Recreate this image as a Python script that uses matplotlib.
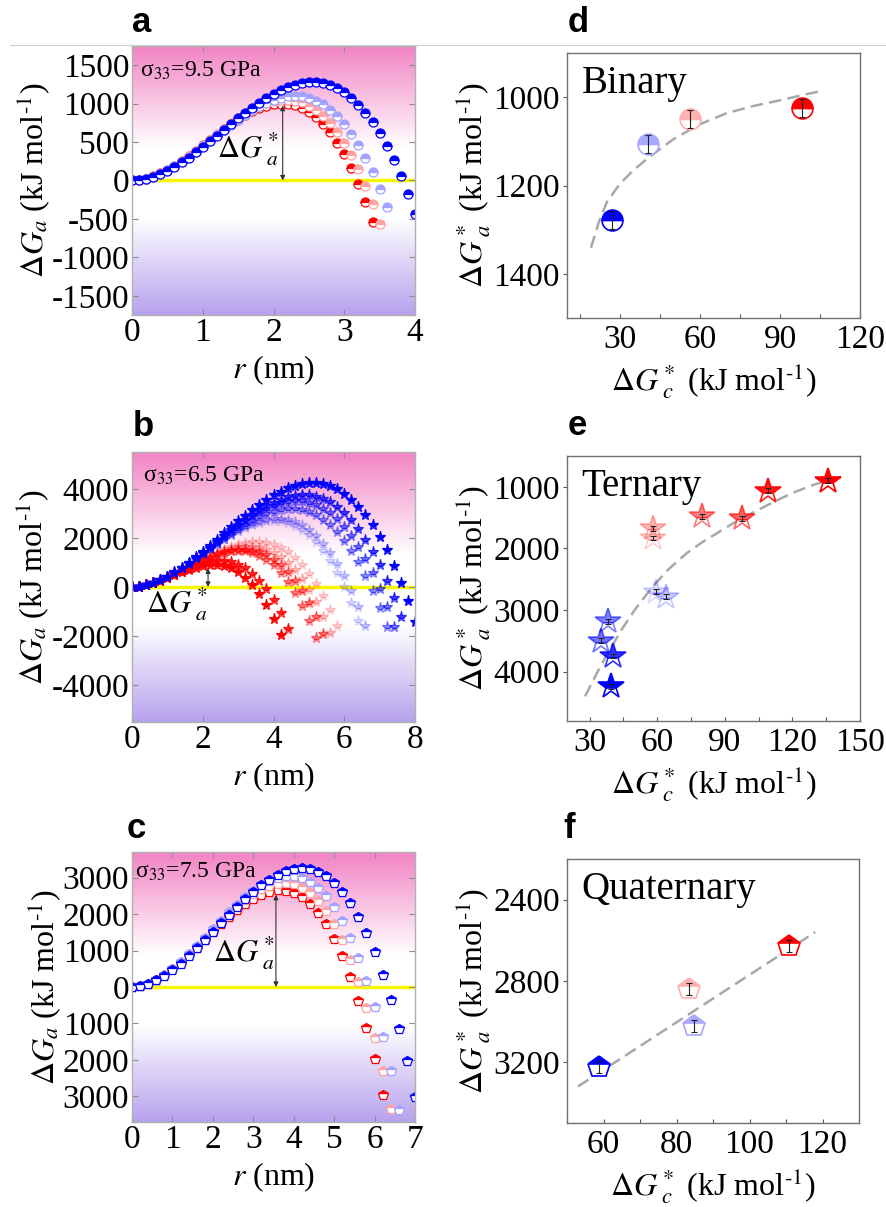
import numpy as np
import matplotlib
matplotlib.use('Agg')
import matplotlib.pyplot as plt
from matplotlib.colors import LinearSegmentedColormap, to_rgba
from matplotlib.lines import Line2D
from matplotlib.ticker import AutoMinorLocator, FuncFormatter

plt.rcParams['font.family'] = ['Liberation Serif', 'DejaVu Serif']
plt.rcParams['mathtext.fontset'] = 'stix'
plt.rcParams['axes.unicode_minus'] = False

# ---- radius grids (nm) ----
R_A = [0.0, 0.1, 0.2, 0.3, 0.4, 0.5, 0.6, 0.7, 0.8, 0.9, 1.0, 1.1, 1.2, 1.3,
       1.4, 1.5, 1.6, 1.7, 1.8, 1.9, 2.0, 2.1, 2.2, 2.3, 2.4, 2.5, 2.6, 2.7,
       2.8, 2.9, 3.0, 3.1, 3.2, 3.3, 3.4, 3.5, 3.6, 3.7, 3.8, 3.9, 4.0]
R_BC = [0.0, 0.2, 0.4, 0.6, 0.8, 1.0, 1.2, 1.4, 1.6, 1.8, 2.0, 2.2, 2.4, 2.6,
        2.8, 3.0, 3.2, 3.4, 3.6, 3.8, 4.0, 4.2, 4.4, 4.6, 4.8, 5.0, 5.2, 5.4,
        5.6, 5.8, 6.0, 6.2, 6.4, 6.6, 6.8, 7.0, 7.2, 7.4, 7.6, 7.8, 8.0]

# ---- panel a: binary, sigma33 = 9.5 GPa ----
GA_RED = [0, 6, 25, 54, 93, 141, 195, 255, 320, 388, 458, 528, 598, 667, 732,
          793, 849, 898, 939, 970, 991, 1000, 996, 977, 943, 892, 823, 735,
          625, 494, 340, 162, -43, -274, -534]
GA_PINK = [0, 6, 25, 54, 93, 140, 195, 255, 320, 389, 460, 532, 604, 675, 743,
           807, 867, 920, 965, 1002, 1030, 1046, 1050, 1040, 1016, 975, 918,
           842, 747, 630, 492, 331, 145, -67, -305, -571]
GA_LBLUE = [0, 6, 24, 51, 88, 133, 186, 244, 307, 373, 443, 514, 586, 657, 727,
            793, 856, 915, 967, 1012, 1049, 1077, 1094, 1100, 1094, 1074, 1039,
            989, 922, 837, 733, 609, 463, 296, 105, -110, -351]
GA_BLUE = [0, 6, 22, 49, 85, 128, 179, 236, 299, 366, 436, 509, 584, 659, 734,
           808, 879, 948, 1013, 1073, 1127, 1174, 1214, 1245, 1267, 1278, 1278,
           1266, 1240, 1200, 1146, 1075, 987, 882, 758, 614, 449, 263, 55,
           -177, -434]

# ---- panel b: ternary, sigma33 = 6.5 GPa ----
GB_R1 = [0, 19, 72, 152, 251, 362, 479, 594, 701, 791, 858, 895, 895, 850,
         754, 599, 379, 86, -288, -748, -1302, -1958]
GB_R2 = [0, 19, 72, 152, 254, 370, 493, 619, 740, 849, 941, 1008, 1045, 1045,
         1001, 907, 757, 543, 262, -97, -538, -1067, -1692]
GB_P1 = [0, 19, 72, 154, 260, 384, 521, 666, 814, 959, 1096, 1220, 1326, 1408,
         1461, 1480, 1459, 1394, 1279, 1108, 877, 580, 213, -233, -758, -1370,
         -2074]
GB_P2 = [0, 17, 67, 143, 243, 360, 490, 630, 773, 916, 1053, 1180, 1294, 1388,
         1458, 1499, 1508, 1480, 1409, 1289, 1120, 894, 608, 254, -168, -665,
         -1241, -1904]
GB_PP1 = [0, 17, 67, 144, 244, 363, 496, 639, 787, 937, 1083, 1222, 1348, 1458,
          1548, 1611, 1645, 1645, 1606, 1523, 1395, 1214, 976, 679, 316, -118,
          -622, -1207, -1875]
GB_PP2 = [0, 17, 66, 143, 243, 363, 498, 644, 798, 955, 1110, 1260, 1402, 1530,
          1640, 1729, 1793, 1826, 1826, 1789, 1709, 1582, 1407, 1176, 887, 535,
          119, -370, -935, -1574]
GB_LB1 = [0, 20, 76, 164, 281, 422, 583, 761, 950, 1148, 1350, 1552, 1750, 1939,
          2117, 2278, 2419, 2536, 2624, 2680, 2700, 2680, 2614, 2499, 2333,
          2110, 1825, 1476, 1058, 569, 0, -650, -1382]
GB_LB2 = [0, 19, 74, 161, 276, 415, 575, 751, 940, 1137, 1339, 1542, 1742, 1936,
          2118, 2287, 2437, 2564, 2666, 2738, 2774, 2775, 2734, 2645, 2509,
          2320, 2071, 1764, 1392, 949, 436, -154, -823, -1581]
GB_B1 = [0, 18, 71, 155, 266, 401, 558, 732, 920, 1119, 1326, 1537, 1749, 1958,
         2161, 2355, 2537, 2703, 2850, 2973, 3072, 3140, 3175, 3176, 3136, 3055,
         2926, 2750, 2518, 2230, 1886, 1476, 1004, 457, -157, -853, -1628]
GB_B2 = [0, 19, 73, 160, 275, 416, 579, 761, 958, 1167, 1386, 1609, 1835, 2059,
         2279, 2490, 2691, 2877, 3046, 3191, 3314, 3408, 3471, 3498, 3488, 3438,
         3342, 3196, 3001, 2752, 2444, 2072, 1638, 1137, 564, -88, -814, -1621]
GB_B3 = [0, 19, 72, 158, 272, 412, 574, 756, 954, 1164, 1385, 1613, 1843, 2075,
         2303, 2526, 2739, 2941, 3127, 3294, 3440, 3561, 3655, 3716, 3744, 3735,
         3683, 3590, 3450, 3256, 3013, 2714, 2355, 1930, 1443, 887, 254, -449,
         -1230]
GB_B4 = [0, 19, 74, 162, 280, 425, 594, 783, 990, 1211, 1444, 1686, 1933, 2182,
         2430, 2675, 2912, 3140, 3355, 3554, 3733, 3890, 4021, 4124, 4196, 4235,
         4234, 4193, 4108, 3976, 3794, 3560, 3273, 2923, 2511, 2034, 1488, 871,
         179, -584, -1434]

# ---- panel c: quaternary, sigma33 = 7.5 GPa ----
GC_RED = [0, 23, 88, 190, 324, 485, 668, 867, 1077, 1292, 1509, 1721, 1924,
          2112, 2280, 2423, 2535, 2612, 2648, 2638, 2578, 2460, 2282, 2036,
          1719, 1325, 849, 285, -372, -1126, -1984, -2949]
GC_PINK = [0, 23, 90, 195, 332, 498, 686, 891, 1109, 1334, 1561, 1785, 2001,
           2204, 2388, 2548, 2679, 2777, 2835, 2849, 2814, 2724, 2575, 2360,
           2076, 1716, 1276, 751, 135, -576, -1389, -2308, -3337]
GC_LBLUE = [0, 23, 90, 194, 332, 499, 689, 897, 1119, 1349, 1584, 1817, 2044,
            2259, 2459, 2638, 2791, 2913, 2999, 3045, 3044, 2994, 2888, 2721,
            2489, 2186, 1808, 1351, 808, 175, -554, -1382, -2315, -3358]
GC_BLUE = [0, 21, 83, 180, 309, 465, 644, 843, 1056, 1279, 1509, 1741, 1971,
           2194, 2407, 2606, 2785, 2941, 3070, 3167, 3228, 3250, 3227, 3156,
           3032, 2851, 2609, 2302, 1926, 1476, 948, 337, -359, -1147, -2028,
           -3009]

# ---- panel d ----
D_X = [27.0, 40.5, 56.3, 98.3]
D_Y = [1278, 1106, 1050, 1025]
D_ERR = [20, 20, 20, 20]
D_FIT_X = [19, 22, 25, 30, 35, 41, 50, 60, 70, 80, 90, 100, 105]
D_FIT_Y = [1341, 1282, 1237, 1195, 1165, 1135, 1095, 1061, 1036, 1020, 1007,
           993, 987]

# ---- panel e ----
E_X = [136.0, 109.0, 80.0, 97.5, 58.0, 58.0, 59.6, 64.0, 38.4, 35.3, 40.2, 39.7]
E_Y = [900, 1060, 1480, 1510, 1670, 1830, 2700, 2780, 3180, 3500, 3745, 4240]
E_ERR = [40, 40, 40, 40, 40, 40, 40, 40, 40, 40, 40, 40]
E_FIT_X = [28, 35, 44, 50, 58, 65, 73, 80, 88, 96, 104, 112, 120, 130, 143]
E_FIT_Y = [4400, 3900, 3330, 3000, 2620, 2340, 2080, 1900, 1720, 1540, 1390,
           1240, 1100, 960, 820]

# ---- panel f ----
F_X = [58.9, 84.7, 83.3, 110.7]
F_Y = [3225, 3022, 2840, 2627]
F_ERR = [30, 30, 30, 30]
F_FIT_X = [53, 118]
F_FIT_Y = [3320, 2560]

BLUE = '#0000ff'
LBLUE = '#a3a3ff'
PINK = '#ffa3a3'
RED = '#ff0000'
SPINE = '#8c8c8c'


def rgba(c, a):
    return to_rgba(c, a)


B_COLORS = {
    'PP2': rgba(RED, 0.18), 'LB1': rgba(BLUE, 0.15), 'PP1': rgba(RED, 0.25),
    'LB2': rgba(BLUE, 0.22), 'P1': rgba(RED, 0.5), 'P2': rgba(RED, 0.55),
    'B1': rgba(BLUE, 0.45), 'B2': rgba(BLUE, 0.55), 'R2': rgba(RED, 0.85),
    'R1': rgba(RED, 1.0), 'B3': rgba(BLUE, 0.75), 'B4': rgba(BLUE, 1.0),
}
B_SERIES = [('PP2', GB_PP2), ('LB1', GB_LB1), ('PP1', GB_PP1),
            ('LB2', GB_LB2), ('P1', GB_P1), ('P2', GB_P2), ('B1', GB_B1),
            ('B2', GB_B2), ('R2', GB_R2), ('R1', GB_R1), ('B3', GB_B3),
            ('B4', GB_B4)]
E_COLORS = [rgba(RED, 1.0), rgba(RED, 0.9), rgba(RED, 0.5), rgba(RED, 0.6),
            rgba(RED, 0.28), rgba(RED, 0.2), rgba(BLUE, 0.15),
            rgba(BLUE, 0.22), rgba(BLUE, 0.5), rgba(BLUE, 0.55),
            rgba(BLUE, 0.8), rgba(BLUE, 1.0)]

BG = LinearSegmentedColormap.from_list(
    'bg', [(0.0, '#b7a2ee'), (0.36, '#ffffff'), (0.62, '#ffffff'),
           (1.0, '#f283c4')])

W, H = 886, 1207
fig = plt.figure(figsize=(W / 100, H / 100), dpi=100)


def box(l, t, r, b):
    return fig.add_axes([l / W, 1 - b / H, (r - l) / W, (b - t) / H])


TICK = 24
LAB = 23
UNIT = r' (kJ mol$^{\text{-}1}$)'


def left_panel(ax, xlim, xticks, ylim, yticks):
    ax.imshow(np.linspace(0, 1, 256).reshape(-1, 1), cmap=BG, aspect='auto',
              origin='lower', extent=(0, 1, 0, 1), transform=ax.transAxes,
              zorder=0)
    ax.axhline(0, color='#f7f700', lw=2.5, zorder=1)
    ax.set_xlim(xlim)
    ax.set_ylim(ylim)
    ax.set_xticks(xticks)
    ax.set_yticks(yticks)
    ax.tick_params(direction='in', top=True, right=True, length=4, width=0.8,
                   color=SPINE, labelsize=TICK, pad=2)
    for s in ax.spines.values():
        s.set_color('#b0b0b0')
        s.set_linewidth(1.0)
    ax.set_xlabel(r'$r$ (nm)', fontsize=LAB, labelpad=4)
    ax.set_ylabel(r'$\Delta G_a$' + UNIT, fontsize=LAB, labelpad=0)


def curves(ax, series, grid, marker, ms, alt):
    for g, col in series:
        ax.plot(grid[:len(g)], g, ls='none', marker=marker, ms=ms, mew=0.9,
                color=col, mec=col, mfc=col, fillstyle='top',
                markerfacecoloralt=alt, zorder=2)


def barrier(ax, x, top, tx, ty):
    ax.annotate('', xy=(x, top), xytext=(x, 0),
                arrowprops=dict(arrowstyle='<|-|>', color='#333333', lw=0.8,
                                mutation_scale=7, shrinkA=0, shrinkB=0),
                zorder=3)
    ax.text(tx, ty, r'$\Delta G^*_{\ a}$', fontsize=22, va='baseline',
            zorder=3)


def right_panel(ax, xlim, xticks, ylim, yticks, name):
    ax.set_xlim(xlim)
    ax.set_ylim(ylim)
    ax.set_xticks(xticks)
    ax.set_yticks(yticks)
    ax.xaxis.set_minor_locator(AutoMinorLocator(2))
    ax.tick_params(axis='x', which='both', direction='in', length=3,
                   width=0.8, color='#555555', labelsize=TICK, pad=5)
    ax.tick_params(axis='y', direction='out', length=3, width=0.8,
                   color='#555555', labelsize=TICK, pad=2)
    for s in ax.spines.values():
        s.set_color('#707070')
        s.set_linewidth(1.0)
    ax.set_xlabel(r'$\Delta G^*_{\ c}$' + UNIT, fontsize=LAB, labelpad=4)
    ax.set_ylabel(r'$\Delta G^*_{\ a}$' + UNIT, fontsize=LAB, labelpad=0)
    ax.text(0.05, 0.85, name, transform=ax.transAxes, fontsize=28,
            va='baseline')


def points(ax, xs, ys, errs, cols, marker, ms, fits):
    ax.plot(fits[0], fits[1], ls=(0, (5, 2.5)), color='#a8a8a8', lw=1.8,
            zorder=1)
    for x, y, c in zip(xs, ys, cols):
        ax.plot([x], [y], ls='none', marker=marker, ms=ms, mew=1.2, color=c,
                mec=c, mfc=c, fillstyle='top', markerfacecoloralt='white',
                zorder=2)
    ax.errorbar(xs, ys, yerr=errs, fmt='none', ecolor='#222222', elinewidth=0.8,
                capsize=2, capthick=0.8, zorder=3)


# ---------------- panel a ----------------
ax = box(132, 46, 415, 315)
left_panel(ax, (0, 4), [0, 1, 2, 3, 4], (-1750, 1750),
           [-1500, -1000, -500, 0, 500, 1000, 1500])
curves(ax, [(GA_RED, RED), (GA_PINK, PINK), (GA_LBLUE, LBLUE),
            (GA_BLUE, BLUE)], R_A, 'o', 6.5, 'white')
barrier(ax, 2.13, 975, 1.2, 300)
ax.text(0.03, 0.885, r'σ$_{33}$=9.5 GPa', transform=ax.transAxes,
        fontsize=17, va='baseline', zorder=3)

# ---------------- panel b ----------------
ax = box(132, 452, 415, 722)
left_panel(ax, (0, 8), [0, 2, 4, 6, 8], (-5500, 5500),
           [-4000, -2000, 0, 2000, 4000])
curves(ax, [(g, B_COLORS[k]) for k, g in B_SERIES], R_BC, '*', 8, 'none')
barrier(ax, 2.15, 760, 0.4, -1060)
ax.text(0.04, 0.889, r'σ$_{33}$=6.5 GPa', transform=ax.transAxes,
        fontsize=17, va='baseline', zorder=3)

# ---------------- panel c ----------------
ax = box(132, 852, 415, 1122)
left_panel(ax, (0, 7), [0, 1, 2, 3, 4, 5, 6, 7], (-3700, 3700),
           [-3000, -2000, -1000, 0, 1000, 2000, 3000])
ax.yaxis.set_major_formatter(FuncFormatter(lambda v, p: '%d' % abs(v)))
curves(ax, [(GC_RED, RED), (GC_PINK, PINK), (GC_LBLUE, LBLUE),
            (GC_BLUE, BLUE)], R_BC, 'p', 7, 'white')
barrier(ax, 3.56, 2530, 2.0, 690)
ax.text(0.01, 0.904, r'σ$_{33}$=7.5 GPa', transform=ax.transAxes,
        fontsize=17, va='baseline', zorder=3)

# ---------------- panel d ----------------
ax = box(567, 53, 860, 318)
right_panel(ax, (10, 120), [30, 60, 90, 120], (1500, 900),
            [1000, 1200, 1400], 'Binary')
points(ax, D_X, D_Y, D_ERR, [BLUE, '#a8a8ff', '#ffb0b0', RED], 'o', 15,
       (D_FIT_X, D_FIT_Y))

# ---------------- panel e ----------------
ax = box(567, 456, 860, 721)
right_panel(ax, (20, 150), [30, 60, 90, 120, 150], (4800, 500),
            [1000, 2000, 3000, 4000], 'Ternary')
points(ax, E_X, E_Y, E_ERR, E_COLORS, '*', 19, (E_FIT_X, E_FIT_Y))

# ---------------- panel f ----------------
ax = box(567, 859, 859, 1123)
right_panel(ax, (50, 130), [60, 80, 100, 120], (3500, 2200),
            [2400, 2800, 3200], 'Quaternary')
points(ax, F_X, F_Y, F_ERR, [BLUE, '#a8a8ff', '#ffb0b0', RED], 'p', 16,
       (F_FIT_X, F_FIT_Y))

# panel letters and the thin rule under the top row of letters
for lab, x, y in [('a', 132, 32), ('d', 568, 32), ('b', 133, 436),
                  ('e', 568, 435), ('c', 127, 838), ('f', 563, 838)]:
    fig.text(x / W, 1 - y / H, lab, fontsize=25, fontweight='bold',
             family='Liberation Sans', va='baseline')
fig.add_artist(Line2D([10 / W, 1.0], [1 - 45 / H, 1 - 45 / H],
                      transform=fig.transFigure, color='#cfcfcf', lw=0.8))

fig.savefig('out.png', dpi=100)
